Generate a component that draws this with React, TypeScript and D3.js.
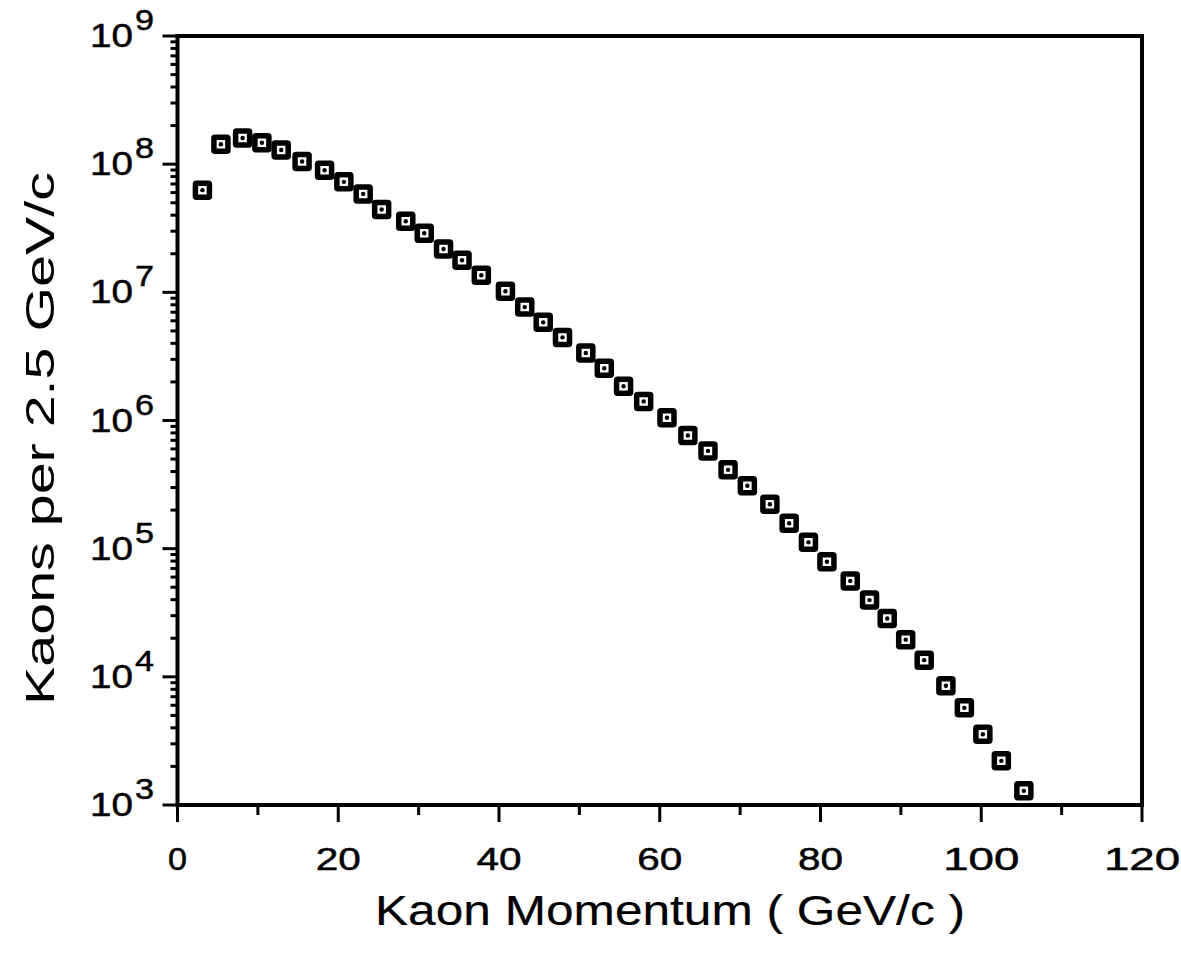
import React from "react";
import * as d3 from "d3";

const momentum = [3.1, 5.4, 8.1, 10.5, 12.9, 15.5, 18.3, 20.7, 23.1, 25.4, 28.4, 30.7, 33.1, 35.4, 37.8, 40.8, 43.2, 45.5, 47.9, 50.8, 53.1, 55.5, 58.0, 60.9, 63.5, 66.0, 68.5, 70.9, 73.7, 76.1, 78.5, 80.8, 83.7, 86.1, 88.3, 90.6, 92.9, 95.6, 97.9, 100.2, 102.5, 105.3];
const kaons = [6.27e7, 1.43e8, 1.6e8, 1.47e8, 1.29e8, 1.05e8, 8.97e7, 7.28e7, 5.86e7, 4.43e7, 3.59e7, 2.89e7, 2.18e7, 1.78e7, 1.36e7, 1.02e7, 7.67e6, 5.83e6, 4.45e6, 3.36e6, 2.56e6, 1.85e6, 1.41e6, 1.05e6, 7.64e5, 5.79e5, 4.12e5, 3.1e5, 2.22e5, 1.58e5, 1.12e5, 7.91e4, 5.6e4, 3.97e4, 2.85e4, 1.95e4, 1.35e4, 8.51e3, 5.73e3, 3.56e3, 2.21e3, 1.29e3];
const xMajorTicks = [0, 20, 40, 60, 80, 100, 120];
const xMinorTicks = [10, 30, 50, 70, 90, 110];
const yDecadeExponents = [3, 4, 5, 6, 7, 8, 9];
const xTitle = "Kaon Momentum ( GeV/c )";
const yTitle = "Kaons per 2.5 GeV/c";

const W = 1181;
const H = 965;
const left = 177.5;
const right = 1142;
const top = 36;
const bottom = 805;

export default function App() {
  const x = d3.scaleLinear().domain([0, 120]).range([left, right]);
  const y = d3.scaleLog().domain([1e3, 1e9]).range([bottom, top]);
  const minorY: number[] = [];
  for (let e = 3; e < 9; e++) {
    for (let m = 2; m <= 9; m++) minorY.push(m * Math.pow(10, e));
  }
  const font = "'Liberation Sans', Arial, Helvetica, sans-serif";
  const xLabelLen = (s: string) => (s.length === 1 ? 19 : s.length === 2 ? 45 : 76);
  return (
    <svg width={W} height={H} style={{ position: "absolute", left: 0, top: 0, background: "#fff" }}>
      <rect x={0} y={0} width={W} height={H} fill="#fff" />
      {/* frame */}
      <g stroke="#000" strokeWidth={4} fill="none" strokeLinecap="square">
        <line x1={left} y1={top} x2={right} y2={top} />
        <line x1={right} y1={top} x2={right} y2={bottom} />
        <line x1={left} y1={top} x2={left} y2={bottom} />
        <line x1={left} y1={bottom} x2={right} y2={bottom} />
      </g>
      {/* y ticks */}
      <g stroke="#000" strokeWidth={3}>
        {yDecadeExponents.map((e) => (
          <line key={"ym" + e} x1={left - 15} x2={left} y1={y(Math.pow(10, e))} y2={y(Math.pow(10, e))} />
        ))}
        {minorY.map((v, i) => (
          <line key={"yn" + i} x1={left - 7} x2={left} y1={y(v)} y2={y(v)} />
        ))}
      </g>
      {/* x ticks */}
      <g stroke="#000" strokeWidth={3}>
        {xMajorTicks.map((t) => (
          <line key={"xm" + t} x1={x(t)} x2={x(t)} y1={bottom} y2={bottom + 17} />
        ))}
        {xMinorTicks.map((t) => (
          <line key={"xn" + t} x1={x(t)} x2={x(t)} y1={bottom} y2={bottom + 10} />
        ))}
      </g>
      {/* x tick labels */}
      <g fontFamily={font} fontSize={32} fill="#000" stroke="#000" strokeWidth={0.5}>
        {xMajorTicks.map((t) => {
          const s = String(t);
          const L = xLabelLen(s);
          return (
            <text key={"xl" + t} x={x(t) - L / 2} y={870} textLength={L} lengthAdjust="spacingAndGlyphs">
              {s}
            </text>
          );
        })}
      </g>
      {/* y tick labels */}
      <g fontFamily={font} fill="#000" stroke="#000" strokeWidth={0.5}>
        {yDecadeExponents.map((e) => (
          <text key={"yl" + e} x={90} y={y(Math.pow(10, e)) + 11} fontSize={34} textLength={43} lengthAdjust="spacingAndGlyphs">
            10
          </text>
        ))}
        {yDecadeExponents.map((e) => (
          <text key={"ys" + e} x={135} y={y(Math.pow(10, e)) - 6} fontSize={30} textLength={19} lengthAdjust="spacingAndGlyphs">
            {String(e)}
          </text>
        ))}
      </g>
      {/* markers */}
      <g>
        {momentum.map((m, i) => (
          <g key={"p" + i} transform={`translate(${x(m)},${y(kaons[i])})`}>
            <rect x={-7} y={-7} width={14} height={14} fill="#fff" stroke="#000" strokeWidth={5.5} rx={1} />
            <circle r={2.2} fill="#000" />
          </g>
        ))}
      </g>
      {/* titles */}
      <text
        x={375}
        y={925}
        fontFamily={font}
        fontSize={42}
        fill="#000"
        stroke="#000"
        strokeWidth={0.2}
        textLength={590}
        lengthAdjust="spacingAndGlyphs"
      >
        {xTitle}
      </text>
      <text
        transform={`translate(54,705) rotate(-90)`}
        fontFamily={font}
        fontSize={41}
        fill="#000"
        textLength={533}
        lengthAdjust="spacingAndGlyphs"
      >
        {yTitle}
      </text>
    </svg>
  );
}
